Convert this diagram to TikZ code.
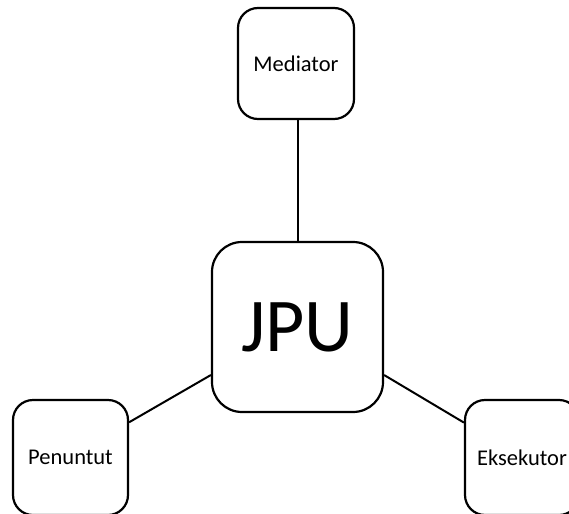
\documentclass[tikz,border=0pt]{standalone}
\usepackage{fontspec}
\setmainfont{Carlito}
\begin{document}
\begin{tikzpicture}[x=1pt, y=-1pt,
  box/.style={draw, line width=2.2pt, fill=white, rounded corners=20pt,
    inner sep=0pt, font=\fontsize{22.5}{26}\selectfont},
  link/.style={line width=2pt}]
  % Canvas
  \useasboundingbox (0,0) rectangle (569,513);
  \clip (0,0) rectangle (569,513);
  % Central box
  \node[box, minimum width=171pt, minimum height=170pt, rounded corners=30pt,
    font=\fontsize{76}{80}\selectfont] (jpu) at (297.5,327) {JPU};
  % Outer boxes
  \node[box, minimum width=116pt, minimum height=111pt] (med) at (296,63.5) {Mediator};
  \node[box, minimum width=115pt, minimum height=115pt] (pen) at (70.5,457.5) {Penuntut};
  \node[box, minimum width=114pt, minimum height=115pt] (eks) at (522,457.5) {Eksekutor};
  % Connectors
  \draw[link] (jpu.north |- med.south) -- (jpu.north);
  \draw[link] (jpu.209) -- (pen.31);
  \draw[link] (jpu.331) -- (eks.149);
\end{tikzpicture}
\end{document}
